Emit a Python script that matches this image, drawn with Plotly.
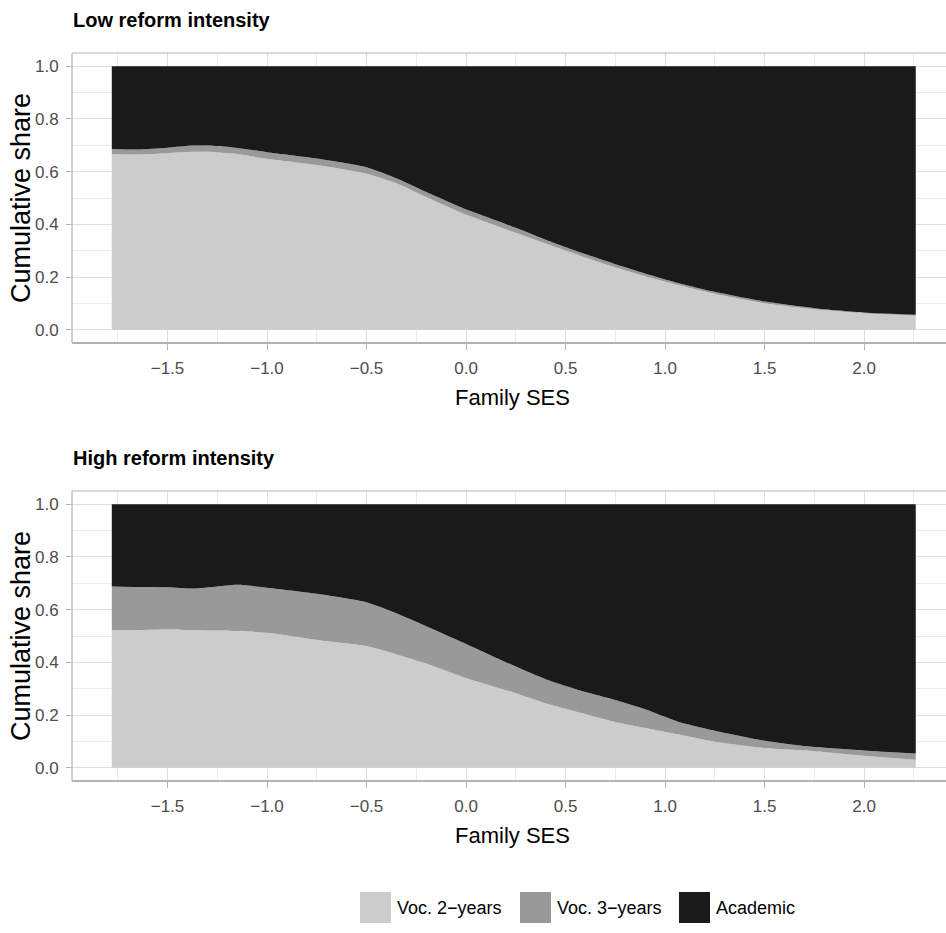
import plotly.graph_objects as go

# Family SES grid shared by both panels
ses = [-1.78, -1.65, -1.5, -1.37, -1.25, -1.15, -1.0, -0.75, -0.5, -0.35, -0.2,
       0.0, 0.25, 0.4, 0.57, 0.74, 0.9, 1.07, 1.25, 1.5, 1.75, 2.0, 2.26]

# Low reform intensity: cumulative shares (Voc. 2-years, Voc. 2 + Voc. 3)
low_voc2_cum = [0.667, 0.665, 0.670, 0.675, 0.673, 0.667, 0.649, 0.625, 0.592, 0.556, 0.504,
                0.437, 0.368, 0.327, 0.282, 0.239, 0.203, 0.169, 0.137, 0.101, 0.078, 0.063, 0.054]
low_voc3_cum = [0.686, 0.684, 0.691, 0.699, 0.697, 0.690, 0.674, 0.650, 0.617, 0.575, 0.523,
                0.457, 0.387, 0.342, 0.295, 0.252, 0.214, 0.177, 0.144, 0.107, 0.082, 0.066, 0.057]

# High reform intensity: cumulative shares
high_voc2_cum = [0.522, 0.523, 0.525, 0.522, 0.521, 0.519, 0.512, 0.485, 0.462, 0.430, 0.396,
                 0.341, 0.283, 0.245, 0.210, 0.176, 0.151, 0.126, 0.099, 0.075, 0.063, 0.046, 0.031]
high_voc3_cum = [0.688, 0.686, 0.685, 0.680, 0.688, 0.694, 0.683, 0.660, 0.628, 0.586, 0.537,
                 0.470, 0.384, 0.336, 0.294, 0.259, 0.222, 0.174, 0.141, 0.103, 0.079, 0.066, 0.054]

categories = ["Voc. 2\u2212years", "Voc. 3\u2212years", "Academic"]
colors = ["#CCCCCC", "#999999", "#1A1A1A"]

panel_titles = ["Low reform intensity", "High reform intensity"]
x_ticks = [-1.5, -1.0, -0.5, 0.0, 0.5, 1.0, 1.5, 2.0]
y_ticks = [0.0, 0.2, 0.4, 0.6, 0.8, 1.0]

W, H = 946, 933
FONT = "Liberation Sans, Arial, Helvetica, sans-serif"


def px_x(p):
    return p / W


def px_y(p):
    return 1 - p / H


# panel pixel boxes: (left, top, bottom)
panels = [(72, 53, 343), (72, 491, 781)]

fig = go.Figure()

series = [(low_voc2_cum, low_voc3_cum), (high_voc2_cum, high_voc3_cum)]
for i, (c2, c3) in enumerate(series):
    shares = [
        c2,
        [b - a for a, b in zip(c2, c3)],
        [1 - b for b in c3],
    ]
    xa = "x" if i == 0 else "x2"
    ya = "y" if i == 0 else "y2"
    for name, vals, col in zip(categories, shares, colors):
        fig.add_trace(go.Scatter(
            x=ses, y=vals, name=name, stackgroup=f"panel{i}",
            mode="lines", line=dict(width=0, shape="spline", smoothing=0.6, color=col),
            fillcolor=col, xaxis=xa, yaxis=ya, showlegend=False, hoverinfo="skip",
        ))

axis_common_x = dict(
    range=[-1.980, 2.412], tickvals=x_ticks, tickformat=".1f",
    showgrid=True, gridcolor="#DEDEDE", gridwidth=1,
    minor=dict(dtick=0.25, tick0=0, showgrid=True, gridcolor="#EBEBEB", gridwidth=1, ticks=""),
    ticks="outside", ticklen=6, tickcolor="#B3B3B3", tickwidth=1,
    tickfont=dict(family=FONT, size=17, color="#4D4D4D"),
    ticklabelstandoff=4,
    showline=False, zeroline=False, domain=[px_x(72), 1.0],
)
axis_common_y = dict(
    range=[-0.05, 1.05], tickvals=y_ticks, tickformat=".1f",
    showgrid=True, gridcolor="#DEDEDE", gridwidth=1,
    minor=dict(dtick=0.1, tick0=0, showgrid=True, gridcolor="#EBEBEB", gridwidth=1, ticks=""),
    ticks="outside", ticklen=5, tickcolor="#B3B3B3", tickwidth=1,
    tickfont=dict(family=FONT, size=17, color="#4D4D4D"),
    ticklabelstandoff=4,
    showline=False, zeroline=False,
)

fig.update_layout(
    xaxis=dict(axis_common_x, anchor="y"),
    yaxis=dict(axis_common_y, anchor="x", domain=[px_y(343), px_y(53)]),
    xaxis2=dict(axis_common_x, anchor="y2"),
    yaxis2=dict(axis_common_y, anchor="x2", domain=[px_y(781), px_y(491)]),
)

shapes = []
annotations = []
for (left, top, bottom), title in zip(panels, panel_titles):
    # panel border: top, left, bottom (right edge runs past the page)
    shapes.append(dict(type="line", xref="paper", yref="paper",
                       x0=px_x(left), x1=1.0, y0=px_y(top), y1=px_y(top),
                       line=dict(color="#B3B3B3", width=1.2)))
    shapes.append(dict(type="line", xref="paper", yref="paper",
                       x0=px_x(left), x1=px_x(left), y0=px_y(bottom), y1=px_y(top),
                       line=dict(color="#B3B3B3", width=1.2)))
    shapes.append(dict(type="line", xref="paper", yref="paper",
                       x0=px_x(left), x1=1.0, y0=px_y(bottom), y1=px_y(bottom),
                       line=dict(color="#B3B3B3", width=2)))
    annotations.append(dict(text=f"<b>{title}</b>", xref="paper", yref="paper",
                            x=px_x(71), y=px_y(top - 33), xanchor="left", yanchor="middle",
                            showarrow=False, font=dict(family=FONT, size=20, color="#000000")))
    annotations.append(dict(text="Family SES", xref="paper", yref="paper",
                            x=px_x(512), y=px_y(bottom + 54), xanchor="center", yanchor="middle",
                            showarrow=False, font=dict(family=FONT, size=22, color="#000000")))
    annotations.append(dict(text="Cumulative share", xref="paper", yref="paper",
                            x=px_x(21), y=px_y((top + bottom) / 2), xanchor="center", yanchor="middle",
                            textangle=-90, showarrow=False,
                            font=dict(family=FONT, size=27, color="#000000")))

# legend keys along the bottom
legend_x = [360, 520, 679]
for lx, name, col in zip(legend_x, categories, colors):
    shapes.append(dict(type="rect", xref="paper", yref="paper",
                       x0=px_x(lx), x1=px_x(lx + 31), y0=px_y(923), y1=px_y(892),
                       fillcolor=col, line=dict(width=0)))
    annotations.append(dict(text=name, xref="paper", yref="paper",
                            x=px_x(lx + 35), y=px_y(908), xanchor="left", yanchor="middle",
                            showarrow=False, font=dict(family=FONT, size=18, color="#000000")))

fig.update_layout(
    width=W, height=H, margin=dict(l=0, r=0, t=0, b=0),
    paper_bgcolor="white", plot_bgcolor="white",
    shapes=shapes, annotations=annotations, showlegend=False,
)

fig.write_html("out.html")
